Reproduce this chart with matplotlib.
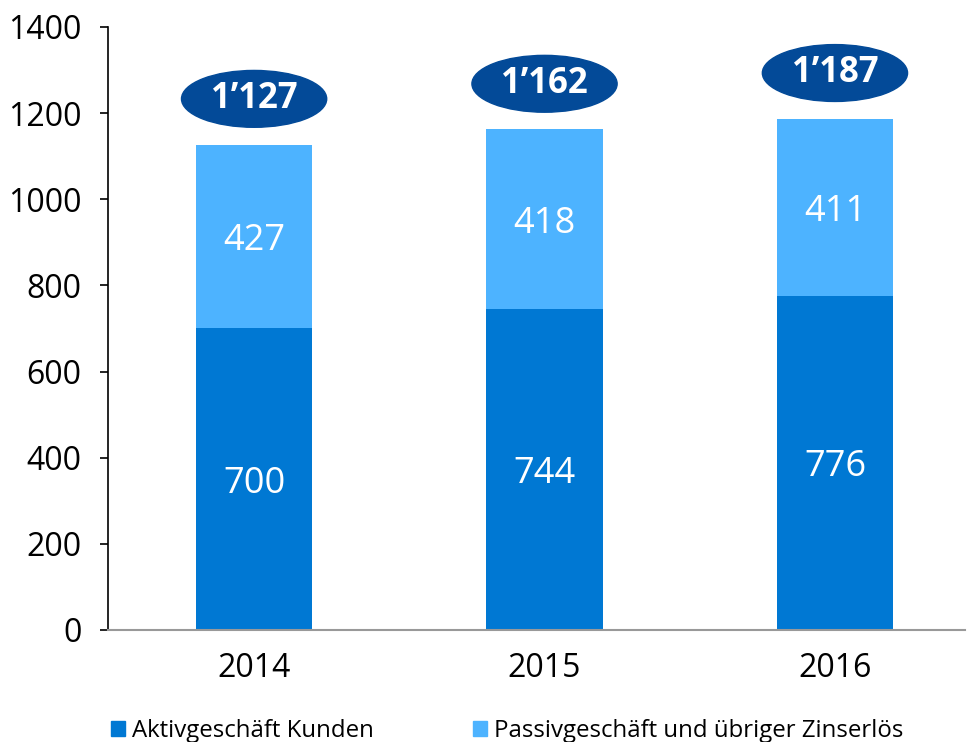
import numpy as np
import matplotlib
matplotlib.use('Agg')
from matplotlib import pyplot as plt
from matplotlib.patches import Ellipse, Patch

plt.rcParams['font.family'] = ['Open Sans', 'DejaVu Sans']

years = ['2014', '2015', '2016']
aktiv = [700, 744, 776]
passiv = [427, 418, 411]
totals = ["1\u2019127", "1\u2019162", "1\u2019187"]

dark = '#0078D3'
light = '#4DB3FF'
navy = '#034A98'

fig = plt.figure(figsize=(9.67, 7.42), dpi=100)
ax = fig.add_axes([0.1117, 0.151, 0.886, 0.8127])

x = np.arange(len(years))
w = 0.4
ax.bar(x, aktiv, w, color=dark)
ax.bar(x, passiv, w, bottom=aktiv, color=light)

for i in range(len(years)):
    ax.text(x[i], aktiv[i] / 2, str(aktiv[i]), ha='center', va='center_baseline',
            color='white', fontsize=26)
    ax.text(x[i], aktiv[i] + passiv[i] / 2, str(passiv[i]), ha='center',
            va='center_baseline', color='white', fontsize=26)
    top = aktiv[i] + passiv[i]
    ax.add_patch(Ellipse((x[i], top + 106), 0.5, 132, color=navy, zorder=3))
    ax.text(x[i], top + 106, totals[i], ha='center', va='center',
            color='white', fontsize=25, fontweight='bold', zorder=4)

ax.set_xlim(-0.503, 2.447)
ax.set_ylim(0, 1400)
ax.set_yticks(range(0, 1401, 200))
ax.set_xticks(x)
ax.set_xticklabels(years)
ax.tick_params(axis='y', labelsize=23, length=6, width=1.2, pad=13)
ax.tick_params(axis='x', labelsize=23, length=0, pad=16)
ax.spines['top'].set_visible(False)
ax.spines['right'].set_visible(False)
ax.spines['left'].set_linewidth(1.2)
ax.spines['bottom'].set_color('#999999')
ax.spines['bottom'].set_linewidth(1.5)

handles = [Patch(color=dark, label='Aktivgesch\u00e4ft Kunden'),
           Patch(color=light, label='Passivgesch\u00e4ft und \u00fcbriger Zinserl\u00f6s')]
fig.legend(handles=handles, loc='lower left', bbox_to_anchor=(0.092, -0.03),
           ncol=2, frameon=False, fontsize=17.3, handlelength=0.6,
           handleheight=0.6, handletextpad=0.3, columnspacing=4.1)

fig.savefig('out.png', dpi=100)
